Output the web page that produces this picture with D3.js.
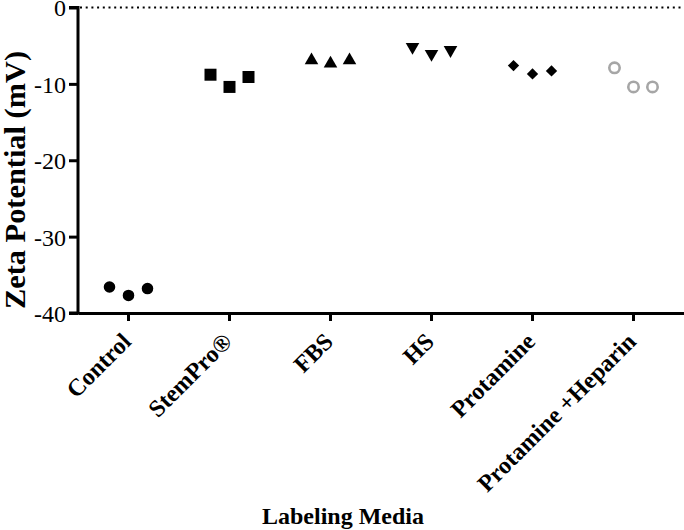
<!DOCTYPE html>
<html><head><meta charset="utf-8">
<script src="https://cdn.jsdelivr.net/npm/d3@7"></script>
<style>body{margin:0;background:#fff}svg{display:block}text{font-family:"Liberation Serif","Times New Roman","DejaVu Serif",serif}</style>
</head><body>
<svg id="c" width="684" height="530"></svg>
<script>
const categories = ["Control","StemPro®","FBS","HS","Protamine","Protamine +Heparin"];
const control = [-36.6, -37.7, -36.8];
const stemPro = [-8.8, -10.4, -9.1];
const fbs = [-6.8, -7.2, -6.8];
const hs = [-5.3, -6.2, -5.7];
const protamine = [-7.6, -8.7, -8.3];
const protamineHeparin = [-7.9, -10.4, -10.4];
const yTicks = [0, -10, -20, -30, -40];

const series = [control, stemPro, fbs, hs, protamine, protamineHeparin];
const shapes = [d3.symbolCircle, d3.symbolSquare, d3.symbolTriangle, d3.symbolTriangle, d3.symbolSquare, d3.symbolCircle];
const sizes = [105, 144, 80, 80, 64, 85];
const rot = [0, 0, 0, 180, 45, 0];
const FONT = '"Liberation Serif","Times New Roman","DejaVu Serif",serif';

const svg = d3.select("#c");
const x = d3.scaleBand().domain(categories).range([78, 684]);
const jit = d3.scalePoint().domain([0, 1, 2]).range([-19, 19]);
const y = d3.scaleLinear().domain([-40, 0]).range([313, 7.5]);

// dotted zero line
svg.append("line").attr("x1", 80).attr("x2", 684).attr("y1", y(0)).attr("y2", y(0))
  .attr("stroke", "#000").attr("stroke-width", 2.2).attr("stroke-dasharray", "2,3.7");

// y axis
const ya = svg.append("g").attr("transform", "translate(78,0)")
  .call(d3.axisLeft(y).tickValues(yTicks).tickSize(9).tickFormat(d => String(d)));
ya.select(".domain").attr("stroke-width", 3).attr("d", `M-9,${y(0)}H0V${y(-40)}H-9`);
ya.selectAll(".tick line").attr("stroke-width", 3);
ya.selectAll(".tick text").attr("font-size", 24).attr("fill", "#000").attr("x", -12).attr("dy", "0.35em")
  .style("font-family", FONT);

// x axis
const xa = svg.append("g").attr("transform", `translate(0,${y(-40)})`)
  .call(d3.axisBottom(x).tickSize(8).tickSizeOuter(0));
xa.select(".domain").attr("stroke-width", 3);
xa.selectAll(".tick line").attr("stroke-width", 3);
xa.selectAll(".tick text").attr("font-size", 24).attr("font-weight", "bold").attr("fill", "#000")
  .style("font-family", FONT)
  .attr("text-anchor", "end").attr("dy", 0).attr("y", 0)
  .attr("transform", "translate(4,30) rotate(-45)");

// points
series.forEach((vals, i) => {
  const cx = x(categories[i]) + x.bandwidth() / 2;
  const sym = d3.symbol().type(shapes[i]).size(sizes[i]);
  svg.append("g").selectAll("path").data(vals).join("path")
    .attr("d", sym)
    .attr("transform", (d, j) => `translate(${cx + jit(j)},${y(d) + (i === 2 ? 1 : i === 3 ? -1 : 0)}) rotate(${rot[i]})`)
    .attr("fill", i === 5 ? "none" : "#000")
    .attr("stroke", i === 5 ? "#a6a6a6" : "none")
    .attr("stroke-width", i === 5 ? 2.6 : 0);
});

// axis titles
svg.append("text").attr("x", 343).attr("y", 524).attr("text-anchor", "middle")
  .style("font-family", FONT)
  .attr("font-size", 24).attr("font-weight", "bold").text("Labeling Media");
svg.append("text").attr("transform", `translate(25,180) rotate(-90)`).attr("text-anchor", "middle")
  .style("font-family", FONT)
  .attr("font-size", 29).attr("font-weight", "bold")
  .attr("textLength", 258).attr("lengthAdjust", "spacingAndGlyphs")
  .text("Zeta Potential (mV)");
</script>
</body></html>
